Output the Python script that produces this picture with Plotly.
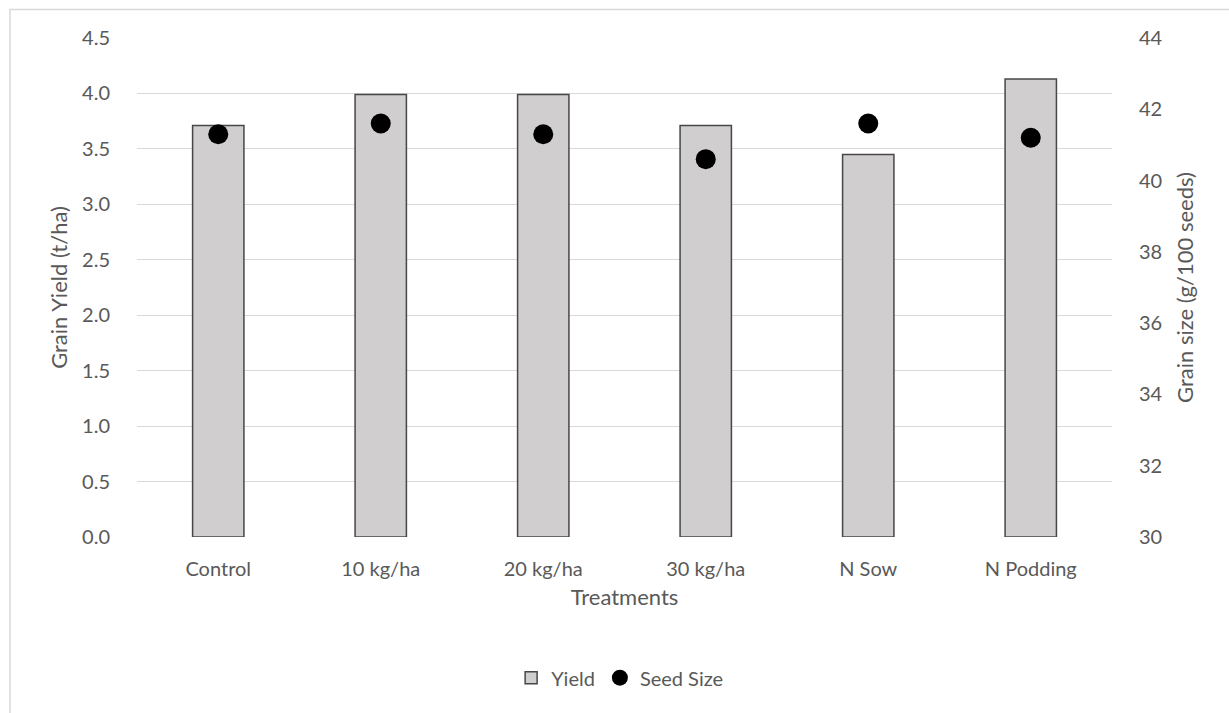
import plotly.graph_objects as go

treatments = ["Control", "10 kg/ha", "20 kg/ha", "30 kg/ha", "N Sow", "N Podding"]
yield_t_ha = [3.71, 3.99, 3.99, 3.71, 3.45, 4.13]
seed_size_g = [41.3, 41.6, 41.3, 40.6, 41.6, 41.2]

FONT = "Lato"
TEXT = "#595959"
GRID = "#d9d9d9"
TICK_SIZE = 20
TITLE_SIZE = 22

fig = go.Figure()

fig.add_trace(go.Bar(
    x=treatments, y=yield_t_ha, name="Yield",
    marker=dict(color="#d0cece", line=dict(color="#474747", width=1.5)),
    yaxis="y",
))

fig.add_trace(go.Scatter(
    x=treatments, y=seed_size_g, name="Seed Size", mode="markers",
    marker=dict(color="black", size=20, symbol="circle"),
    yaxis="y2",
))

fig.update_layout(
    width=1229, height=713,
    margin=dict(l=137, r=117, t=38, b=176),
    paper_bgcolor="white", plot_bgcolor="white",
    font=dict(family=FONT, size=TICK_SIZE, color=TEXT),
    bargap=0.684,
    showlegend=True,
    legend=dict(orientation="h", x=0.495, xanchor="center", y=-0.282, yanchor="middle",
                font=dict(size=TICK_SIZE, color=TEXT),
                itemwidth=30, traceorder="normal"),
    xaxis=dict(
        type="category", range=[-0.5, 5.5],
        showgrid=False, zeroline=False, showline=False,
        ticks="outside", ticklen=14, tickcolor="rgba(0,0,0,0)",
        tickfont=dict(size=TICK_SIZE, color=TEXT),
        title=dict(text="Treatments", font=dict(size=TITLE_SIZE, color=TEXT), standoff=10),
    ),
    yaxis=dict(
        range=[0, 4.5], dtick=0.5, tick0=0, tickformat=".1f",
        showgrid=True, gridcolor=GRID, gridwidth=1.3,
        zeroline=False, showline=False,
        ticks="outside", ticklen=22, tickcolor="rgba(0,0,0,0)",
        tickfont=dict(size=TICK_SIZE, color=TEXT),
        title=dict(text="Grain Yield (t/ha)", font=dict(size=TITLE_SIZE, color=TEXT), standoff=8),
    ),
    yaxis2=dict(
        range=[30, 44], dtick=2, tick0=30, overlaying="y", side="right",
        showgrid=False, zeroline=False, showline=False,
        ticks="outside", ticklen=22, tickcolor="rgba(0,0,0,0)",
        tickfont=dict(size=TICK_SIZE, color=TEXT),
        title=dict(text="Grain size (g/100 seeds)", font=dict(size=TITLE_SIZE, color=TEXT), standoff=16),
    ),
    shapes=[dict(
        type="rect", xref="paper", yref="paper",
        x0=-0.1303, x1=1.3, y0=-0.6, y1=1.057,
        line=dict(color=GRID, width=1.5), fillcolor="rgba(0,0,0,0)", layer="below",
    )],
)

fig.write_html("out.html")
